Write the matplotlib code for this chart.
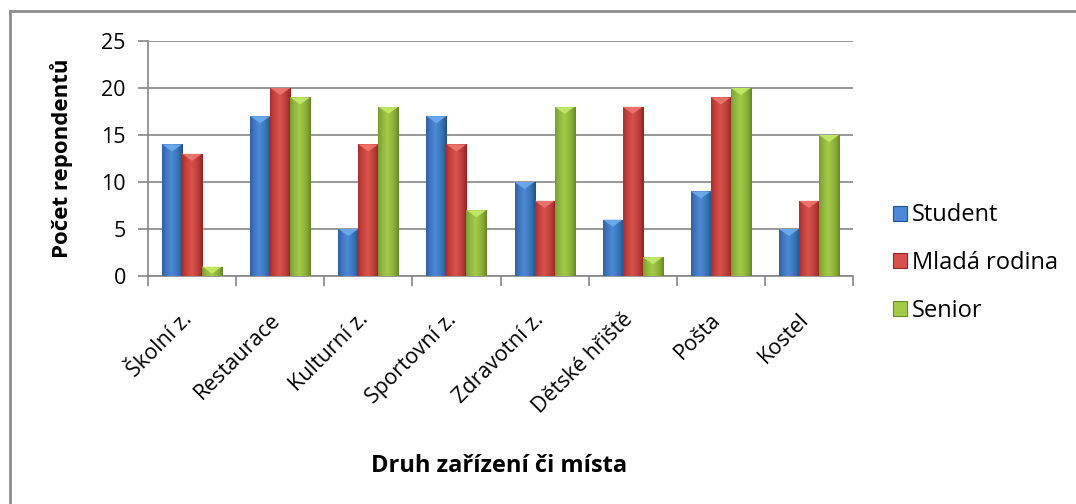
import matplotlib
matplotlib.use("Agg")
import matplotlib.pyplot as plt
import numpy as np
from matplotlib.colors import LinearSegmentedColormap
from matplotlib.lines import Line2D
from matplotlib.patches import Polygon, Patch

plt.rcParams["font.family"] = ["Open Sans", "DejaVu Sans"]

categories = ["Školní z.", "Restaurace", "Kulturní z.", "Sportovní z.",
              "Zdravotní z.", "Dětské hřiště", "Pošta", "Kostel"]
series_names = ["Student", "Mladá rodina", "Senior"]
student = [14, 17, 5, 17, 10, 6, 9, 5]
mlada_rodina = [13, 20, 14, 14, 8, 18, 19, 8]
senior = [1, 19, 18, 7, 18, 2, 20, 15]

# (dark edge, light centre, top bevel)
PALETTE = [
    ("#24528f", "#4a8ad6", "#6fb0f0"),
    ("#962523", "#d8504b", "#f07a72"),
    ("#6a8a26", "#a3cb48", "#c8ec6a"),
]
GRID = "#868686"
TICK_FS = 15.5

fig = plt.figure(figsize=(10.76, 5.04), dpi=100)
ax = fig.add_axes([148 / 1076, 1 - 276 / 504, 705 / 1076, 235 / 504])

x = np.arange(len(categories))
bw = 0.227
grad = np.linspace(0, 1, 64)
grad = 1 - np.abs(grad - 0.45) * 2
grad = np.clip(grad, 0, 1) ** 0.6
grad = grad.reshape(1, -1)

handles = []
for i, (vals, name) in enumerate(zip([student, mlada_rodina, senior], series_names)):
    dark, light, top = PALETTE[i]
    cmap = LinearSegmentedColormap.from_list(name, [dark, light])
    bars = ax.bar(x + (i - 1) * bw, vals, bw, color=light, zorder=3,
                  linewidth=0)
    for b in bars:
        x0, w, h = b.get_x(), b.get_width(), b.get_height()
        im = ax.imshow(grad, cmap=cmap, aspect="auto", zorder=3.1,
                       extent=(x0, x0 + w, 0, h), interpolation="bicubic")
        im.set_clip_path(b)
        tri = Polygon([(x0, h), (x0 + w, h), (x0 + w * 0.5, h - 0.75)],
                      closed=True, facecolor=top, edgecolor="none",
                      alpha=0.85, zorder=3.2)
        ax.add_patch(tri)
    handles.append(Patch(facecolor=light, edgecolor=dark, linewidth=0.8,
                         label=name))

ax.set_xlim(-0.5, len(categories) - 0.5)
ax.set_ylim(0, 25)
ax.set_yticks(range(0, 26, 5))
ax.yaxis.grid(True, color=GRID, linewidth=1.2, zorder=0)
ax.set_axisbelow(True)
for s in ["top", "right"]:
    ax.spines[s].set_visible(False)
for s in ["left", "bottom"]:
    ax.spines[s].set_color(GRID)
    ax.spines[s].set_linewidth(1.2)

ax.set_xticks(np.arange(len(categories) + 1) - 0.5, minor=False)
ax.set_xticklabels([])
ax.tick_params(axis="x", direction="out", length=7, color=GRID, width=1.2)
ax.tick_params(axis="y", direction="out", length=7, color=GRID, width=1.2,
               labelsize=TICK_FS, pad=9)

for xi, lab in zip(x, categories):
    ax.annotate(lab, xy=(xi, 0), xycoords="data", xytext=(4, -33),
                textcoords="offset pixels", rotation=45, ha="right", va="top",
                fontsize=TICK_FS)

fig.text(62 / 1076, 1 - 158 / 504, "Počet repondentů", rotation=90,
         ha="center", va="center", fontsize=16, fontweight="bold")
fig.text(499 / 1076, 1 - 466 / 504, "Druh zařízení či místa", ha="center",
         va="center", fontsize=17, fontweight="bold")

leg = fig.legend(handles=handles, loc="center left",
                 bbox_to_anchor=(872 / 1076, 1 - 263 / 504), frameon=False,
                 fontsize=17, handlelength=0.6, handleheight=0.6,
                 handletextpad=0.2, labelspacing=1.0)

# outer chart frame
fig.add_artist(Line2D([10 / 1076, 10 / 1076], [0, 1 - 11 / 504],
                      transform=fig.transFigure, color="#8c8c8c", lw=2))
fig.add_artist(Line2D([10 / 1076, 1], [1 - 11 / 504, 1 - 11 / 504],
                      transform=fig.transFigure, color="#8c8c8c", lw=2))

fig.savefig("out.png", dpi=100, facecolor="white")
